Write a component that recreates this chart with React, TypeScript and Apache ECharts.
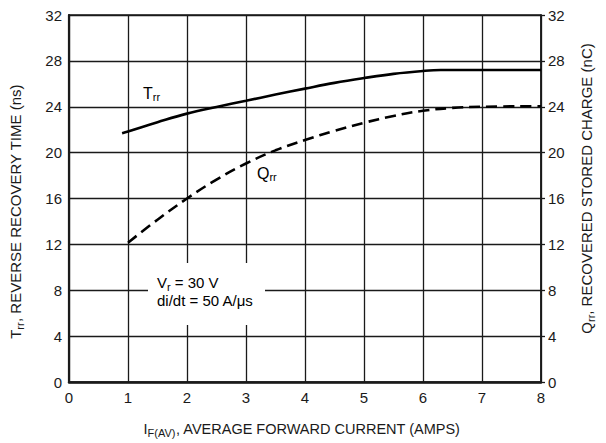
import React, { useEffect, useRef } from "react";
import * as echarts from "echarts";

const currentTrr = [0.9, 1, 1.5, 2, 2.5, 3, 3.5, 4, 4.5, 5, 5.5, 6, 6.3, 7, 8];
const trrValues = [21.7, 21.85, 22.65, 23.4, 23.98, 24.52, 25.06, 25.58, 26.08, 26.5, 26.87, 27.12, 27.2, 27.2, 27.2];
const currentQrr = [1, 1.5, 2, 2.5, 3, 3.5, 4, 4.5, 5, 5.5, 6, 6.5, 7, 8];
const qrrValues = [12.15, 14.15, 16.0, 17.65, 19.05, 20.2, 21.1, 21.9, 22.6, 23.2, 23.65, 23.9, 24.0, 24.05];
const yTicks = [0, 4, 8, 12, 16, 20, 24, 28, 32];
const xTicks = [0, 1, 2, 3, 4, 5, 6, 7, 8];

const FONT = "'Liberation Sans Narrow', 'Liberation Sans', Arial, sans-serif";
const INK = "#1a1a1a";

export default function App() {
  const ref = useRef<HTMLDivElement>(null);
  useEffect(() => {
    const chart = echarts.init(ref.current!, null, { renderer: "svg" });
    const sub = { fontSize: 11, fontFamily: FONT, color: INK, padding: [8, 0, 0, 0] };
    const main = { fontSize: 15, fontFamily: FONT, color: INK };
    const mainX = { ...main, fontSize: 14.5 };
    chart.setOption({
      animation: false,
      backgroundColor: "#ffffff",
      textStyle: { fontFamily: FONT },
      grid: {
        left: 68,
        right: 65,
        top: 15,
        bottom: 60,
        show: true,
        borderColor: INK,
        borderWidth: 1.5,
        backgroundColor: "transparent",
      },
      xAxis: {
        type: "value",
        min: xTicks[0],
        max: xTicks[xTicks.length - 1],
        interval: 1,
        axisLine: { show: true, onZero: false, lineStyle: { color: INK, width: 2.5 } },
        axisTick: { show: false },
        splitLine: { show: true, lineStyle: { color: INK, width: 1.3 } },
        axisLabel: { color: INK, fontSize: 15, fontFamily: FONT, margin: 8 },
        name: "{t|I}{s|F(AV)}{t|, AVERAGE FORWARD CURRENT (AMPS)}",
        nameLocation: "middle",
        nameGap: 37,
        nameTextStyle: { rich: { t: mainX, s: sub }, padding: [0, 6, 0, 0] },
      },
      yAxis: [
        {
          type: "value",
          position: "left",
          min: yTicks[0],
          max: yTicks[yTicks.length - 1],
          interval: 4,
          axisLine: { show: true, onZero: false, lineStyle: { color: INK, width: 2.2 } },
          axisTick: { show: false },
          splitLine: { show: true, lineStyle: { color: INK, width: 1.3 } },
          axisLabel: { color: INK, fontSize: 15, fontFamily: FONT, margin: 7 },
          name: "{t|T}{s|rr}{t|, REVERSE RECOVERY TIME (ns)}",
          nameLocation: "middle",
          nameRotate: 90,
          nameGap: 44,
          nameTextStyle: { rich: { t: main, s: sub }, padding: [0, 26, 0, 0] },
        },
        {
          type: "value",
          position: "right",
          min: yTicks[0],
          max: yTicks[yTicks.length - 1],
          interval: 4,
          axisLine: { show: true, onZero: false, lineStyle: { color: INK, width: 1.5 } },
          axisTick: { show: true, inside: false, length: 4, lineStyle: { color: INK, width: 1.3 } },
          splitLine: { show: false },
          axisLabel: { color: INK, fontSize: 15, fontFamily: FONT, margin: 7 },
          name: "{t|Q}{s|rr}{t|, RECOVERED STORED CHARGE (nC)}",
          nameLocation: "middle",
          nameRotate: 90,
          nameGap: 36,
          nameTextStyle: { rich: { t: main, s: sub }, padding: [0, 0, 0, 20] },
        },
      ],
      graphic: [
        {
          type: "rect",
          left: 148,
          top: 263,
          shape: { width: 117, height: 62 },
          style: { fill: "#ffffff" },
          z: 10,
        },
        {
          type: "text",
          left: 157,
          top: 273,
          z: 11,
          style: {
            text: "{t|V}{s|r}{t| = 30 V}\n{t|di/dt = 50 A/μs}",
            rich: { t: { ...main, lineHeight: 18 }, s: { ...sub, lineHeight: 18 } },
          },
        },
        {
          type: "text",
          left: 143,
          top: 85,
          z: 11,
          style: {
            text: "{t|T}{s|rr}",
            rich: { t: { ...main, fontSize: 16 }, s: sub },
          },
        },
        {
          type: "text",
          left: 257,
          top: 165,
          z: 11,
          style: {
            text: "{t|Q}{s|rr}",
            rich: { t: { ...main, fontSize: 16 }, s: sub },
          },
        },
      ],
      series: [
        {
          name: "Trr",
          type: "line",
          yAxisIndex: 0,
          smooth: 0.4,
          symbol: "none",
          data: currentTrr.map((x, i) => [x, trrValues[i]]),
          lineStyle: { color: "#000", width: 2.6 },
          z: 5,
        },
        {
          name: "Qrr",
          type: "line",
          yAxisIndex: 1,
          smooth: 0.4,
          symbol: "none",
          data: currentQrr.map((x, i) => [x, qrrValues[i]]),
          lineStyle: { color: "#000", width: 2.6, type: [11, 6] },
          z: 5,
        },
      ],
    });
    return () => chart.dispose();
  }, []);
  return <div ref={ref} style={{ width: 606, height: 443, position: "absolute", left: 0, top: 0 }} />;
}
